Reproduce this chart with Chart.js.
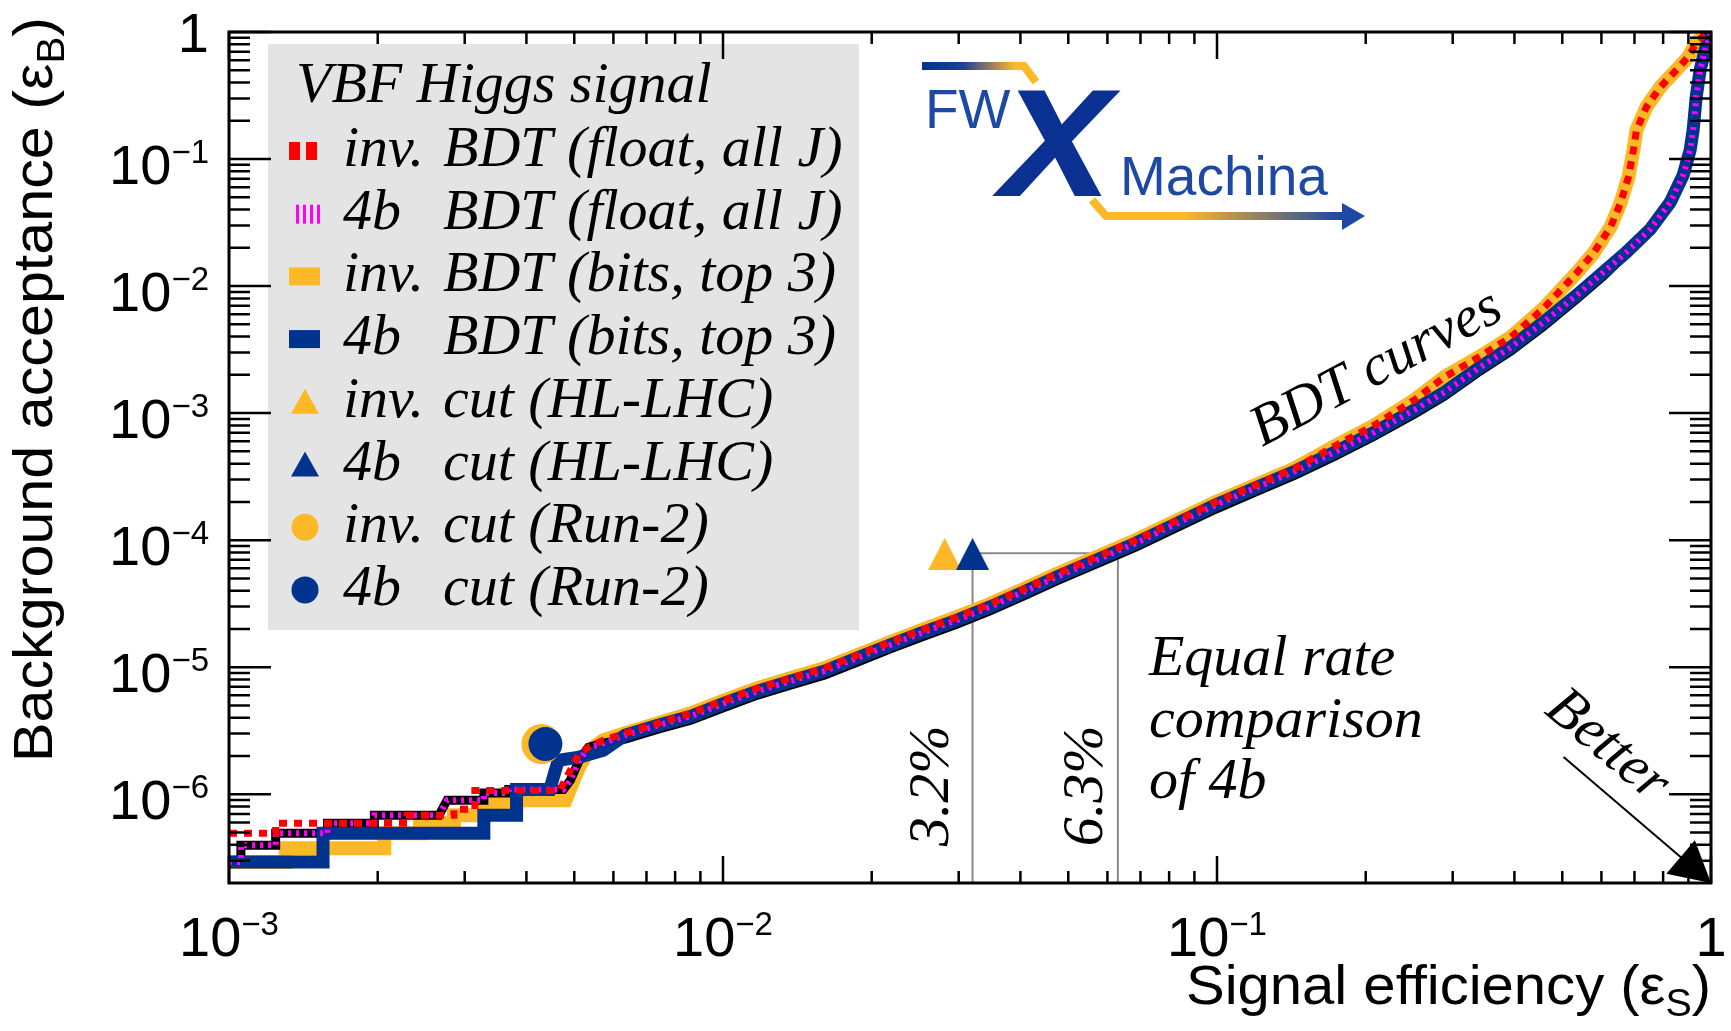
<!DOCTYPE html>
<html lang="en">
<head>
<meta charset="UTF-8">
<title>VBF Higgs signal - BDT curves</title>
<script src="https://cdn.jsdelivr.net/npm/chart.js"></script>
<style>
  html, body { margin: 0; padding: 0; background: #fff; }
  #wrap { width: 1731px; height: 1031px; }
</style>
</head>
<body>
<div id="wrap"><canvas id="roc" width="1731" height="1031"></canvas></div>
<script>
// axes
const xRange = [1e-3, 1];
const yRange = [2e-7, 1];
const xMajorTicks = [1e-3, 1e-2, 1e-1, 1];
const xTickLabels = [['10', '\u22123'], ['10', '\u22122'], ['10', '\u22121'], ['1', '']];
const yMajorTicks = [1, 1e-1, 1e-2, 1e-3, 1e-4, 1e-5, 1e-6];
const yTickLabels = [['1', ''], ['10', '\u22121'], ['10', '\u22122'], ['10', '\u22123'], ['10', '\u22124'], ['10', '\u22125'], ['10', '\u22126']];

// shared signal-efficiency points in the middle of the BDT curves
const bdtMidX = [6.34e-3, 7.39e-3, 8.61e-3, 1.008e-2, 1.175e-2, 1.369e-2, 1.603e-2, 1.868e-2, 2.177e-2, 2.549e-2, 2.971e-2, 3.463e-2,
                 4.055e-2, 4.725e-2, 5.689e-2, 6.848e-2, 8.245e-2, 9.93e-2, 0.1195, 0.1439, 0.1732, 0.2085, 0.2510];

// inv. BDT (float, all J)
const invFloatHeadX = [1.0e-3, 1.243e-3, 1.243e-3, 2.294e-3, 2.294e-3, 2.853e-3, 2.853e-3, 3.146e-3, 3.146e-3, 4.667e-3, 4.911e-3, 5.097e-3, 5.339e-3, 5.72e-3];
const invFloatHeadY = [4.93e-7, 4.93e-7, 5.91e-7, 5.91e-7, 6.84e-7, 6.84e-7, 7.62e-7, 7.62e-7, 1.07e-6, 1.07e-6, 1.55e-6, 2.03e-6, 2.34e-6, 2.66e-6];
// inv. BDT (bits, top 3)
const invBitsHeadX = [1.0e-3, 1.303e-3, 1.303e-3, 2.062e-3, 2.062e-3, 2.437e-3, 2.437e-3, 2.853e-3, 2.853e-3, 3.28e-3, 3.28e-3, 3.82e-3, 3.82e-3, 4.80e-3, 5.10e-3, 5.34e-3, 5.72e-3];
const invBitsHeadY = [2.92e-7, 2.92e-7, 3.76e-7, 3.76e-7, 4.93e-7, 4.93e-7, 5.91e-7, 5.91e-7, 6.84e-7, 6.84e-7, 8.49e-7, 8.49e-7, 8.97e-7, 8.97e-7, 1.6e-6, 2.2e-6, 2.66e-6];
// both inv. curves above 6e-3
const invMidY = [3.02e-6, 3.62e-6, 4.34e-6, 5.50e-6, 6.84e-6, 8.19e-6, 9.82e-6, 1.24e-5, 1.57e-5, 1.99e-5, 2.48e-5, 3.13e-5,
                 4.11e-5, 5.40e-5, 7.35e-5, 1.0e-4, 1.41e-4, 1.99e-4, 2.71e-4, 3.69e-4, 5.50e-4, 8.05e-4, 1.27e-3];
const invTailX = [0.2886, 0.3363, 0.3937, 0.4588, 0.5348, 0.5785, 0.6261, 0.6558, 0.6806, 0.6966, 0.7065, 0.7400, 0.7898, 0.8506, 0.8991, 0.9333, 0.978, 1.0];
const invTailY = [1.92e-3, 2.71e-3, 3.97e-3, 6.71e-3, 1.27e-2, 1.82e-2, 2.92e-2, 4.50e-2, 7.22e-2, 0.118, 0.169, 0.257, 0.369, 0.502, 0.636, 0.819, 0.98, 1.0];

// 4b BDT (float, all J)
const fbFloatHeadX = [1.0e-3, 1.057e-3, 1.057e-3, 1.243e-3, 1.243e-3, 1.583e-3, 1.583e-3, 1.969e-3, 1.969e-3, 2.662e-3, 2.763e-3, 3.28e-3, 3.28e-3,
                      3.684e-3, 3.684e-3, 4.753e-3, 4.911e-3, 5.097e-3, 5.339e-3, 5.72e-3];
const fbFloatHeadY = [2.92e-7, 2.92e-7, 3.97e-7, 3.97e-7, 4.93e-7, 4.93e-7, 5.91e-7, 5.91e-7, 6.84e-7, 6.84e-7, 8.97e-7, 8.97e-7, 1.02e-6,
                      1.02e-6, 1.09e-6, 1.09e-6, 1.29e-6, 1.79e-6, 2.34e-6, 2.52e-6];
// black edge line drawn with the 4b float curve, a little below the bits curve
const fbEdgeMidY = [2.71e-6, 3.25e-6, 3.83e-6, 4.84e-6, 6.03e-6, 7.22e-6, 8.65e-6, 1.09e-5, 1.39e-5, 1.75e-5, 2.18e-5, 2.76e-5,
                    3.62e-5, 4.75e-5, 6.47e-5, 8.81e-5, 1.24e-4, 1.75e-4, 2.39e-4, 3.25e-4, 4.58e-4, 6.59e-4, 9.82e-4];
const fbEdgeTailY = [1.36e-3, 2.07e-3, 3.08e-3, 4.84e-3, 7.90e-3, 1.20e-2, 1.80e-2, 2.75e-2, 4.50e-2, 7.3e-2, 0.115, 0.165, 0.30, 0.49, 0.71, 0.91, 1.0];
// 4b BDT (bits, top 3)
const fbBitsHeadX = [1.0e-3, 1.55e-3, 1.55e-3, 3.28e-3, 3.28e-3, 3.82e-3, 3.82e-3, 4.46e-3, 4.64e-3, 5.12e-3, 5.72e-3];
const fbBitsHeadY = [2.92e-7, 2.92e-7, 4.93e-7, 4.93e-7, 6.84e-7, 6.84e-7, 1.09e-6, 1.09e-6, 1.85e-6, 1.96e-6, 2.22e-6];
// both 4b curves above 6e-3
const fbMidY = [2.92e-6, 3.49e-6, 4.11e-6, 5.21e-6, 6.47e-6, 7.76e-6, 9.30e-6, 1.18e-5, 1.49e-5, 1.89e-5, 2.34e-5, 2.97e-5,
                3.90e-5, 5.11e-5, 6.96e-5, 9.46e-5, 1.34e-4, 1.89e-4, 2.57e-4, 3.49e-4, 4.93e-4, 7.08e-4, 1.06e-3];
const fbTailX = [0.2886, 0.3363, 0.3937, 0.4588, 0.5348, 0.6062, 0.6743, 0.7539, 0.8273, 0.8786, 0.9075, 0.9202, 0.9333, 0.9506, 0.9730, 0.996, 1.0];
const fbTailY = [1.46e-3, 2.22e-3, 3.31e-3, 5.21e-3, 8.49e-3, 1.29e-2, 1.85e-2, 2.81e-2, 4.58e-2, 7.48e-2, 0.118, 0.169, 0.308, 0.502, 0.722, 0.913, 1.0];

// cut-based working points: [inv., 4b]
const hlCutX = [0.0281, 0.032];
const hlCutY = [7.8e-5, 7.8e-5];
const run2CutX = [4.29e-3, 4.37e-3];
const run2CutY = [2.48e-6, 2.48e-6];
// equal rate guide lines (3.2% and 6.3%)
const equalRateX = [0.032, 0.032, 0.063, 0.063];
const equalRateY = [2e-7, 7.9e-5, 7.9e-5, 2e-7];

const legendLabels = [
  ['inv.', 'BDT (float, all J)'], ['4b', 'BDT (float, all J)'], ['inv.', 'BDT (bits, top 3)'], ['4b', 'BDT (bits, top 3)'],
  ['inv.', 'cut (HL-LHC)'], ['4b', 'cut (HL-LHC)'], ['inv.', 'cut (Run-2)'], ['4b', 'cut (Run-2)']
];

const RED = '#ff0000', MAGENTA = '#ff00ff', ORANGE = '#fdb827', BLUE = '#00338d', GREY = '#8a8a8a';
const SANS = "'Liberation Sans', Arial, Helvetica, sans-serif";
const SERIF = "'Liberation Serif', 'Times New Roman', serif";

const pts = (xs, ys) => xs.map((v, i) => ({ x: v, y: ys[i] }));

function triangleSprite(color) {
  const c = document.createElement('canvas');
  c.width = 33; c.height = 32;
  const g = c.getContext('2d');
  g.fillStyle = color;
  g.beginPath(); g.moveTo(16.5, 0); g.lineTo(33, 32); g.lineTo(0, 32); g.closePath(); g.fill();
  return c;
}

function minorTicks(lo, hi) {
  const out = [];
  for (let e = Math.floor(Math.log10(lo)); e < Math.round(Math.log10(hi)); e++) {
    for (let m = 2; m <= 9; m++) {
      const v = m * Math.pow(10, e);
      if (v > lo * 1.0001 && v < hi) out.push(v);
    }
  }
  return out;
}

function powerLabel(ctx, base, exp, px, baseline, align) {
  ctx.font = '56px ' + SANS;
  const wb = ctx.measureText(base).width;
  ctx.font = '33px ' + SANS;
  const we = exp ? ctx.measureText(exp).width : 0;
  const x0 = align === 'right' ? px - wb - we : px - (wb + we) / 2;
  ctx.font = '56px ' + SANS;
  ctx.fillText(base, x0, baseline);
  if (exp) {
    ctx.font = '33px ' + SANS;
    ctx.fillText(exp, x0 + wb, baseline - 21);
  }
}

// sans title with a subscript, right aligned at (ox, oy) and fitted to a length
function axisTitle(ctx, parts, ox, oy, rot, length) {
  let w = 0;
  parts.forEach(p => { ctx.font = p.size + 'px ' + SANS; p.w = ctx.measureText(p.t).width; w += p.w; });
  ctx.save();
  ctx.translate(ox, oy);
  ctx.rotate(rot);
  ctx.scale(length / w, 1);
  let cx = -w;
  parts.forEach(p => { ctx.font = p.size + 'px ' + SANS; ctx.fillText(p.t, cx, p.dy); cx += p.w; });
  ctx.restore();
}

function note(ctx, text, px, py, deg) {
  ctx.save();
  ctx.translate(px, py);
  ctx.rotate(deg * Math.PI / 180);
  ctx.font = 'italic 58px ' + SERIF;
  ctx.fillText(text, 0, 0);
  ctx.restore();
}

function drawLegend(ctx) {
  ctx.fillStyle = '#e4e4e4';
  ctx.fillRect(268, 44, 591, 586);
  ctx.fillStyle = '#000';
  ctx.font = 'italic 58px ' + SERIF;
  ctx.fillText('VBF Higgs signal', 296, 102);
  legendLabels.forEach((lab, i) => {
    const cy = 151 + i * 62.7;
    switch (i) {
      case 0:
        ctx.fillStyle = RED;
        ctx.fillRect(289, cy - 9, 11, 18); ctx.fillRect(306, cy - 9, 11, 18);
        break;
      case 1:
        ctx.fillStyle = MAGENTA;
        for (let k = 0; k < 4; k++) ctx.fillRect(296 + k * 7, cy - 9, 3, 19);
        break;
      case 2: ctx.fillStyle = ORANGE; ctx.fillRect(289, cy - 9, 31, 18); break;
      case 3: ctx.fillStyle = BLUE; ctx.fillRect(289, cy - 9, 31, 18); break;
      case 4: case 5:
        ctx.fillStyle = i === 4 ? ORANGE : BLUE;
        ctx.beginPath(); ctx.moveTo(305, cy - 13); ctx.lineTo(319, cy + 12); ctx.lineTo(291, cy + 12); ctx.closePath(); ctx.fill();
        break;
      default:
        ctx.fillStyle = i === 6 ? ORANGE : BLUE;
        ctx.beginPath(); ctx.arc(305, cy, 13.5, 0, 2 * Math.PI); ctx.fill();
    }
    ctx.fillStyle = '#000';
    ctx.font = 'italic 58px ' + SERIF;
    ctx.fillText(lab[0], 343, cy + 15);
    ctx.fillText(lab[1], 443, cy + 15);
  });
}

function drawLogo(ctx) {
  ctx.save();
  ctx.lineWidth = 8;
  ctx.lineJoin = 'miter';
  let g = ctx.createLinearGradient(922, 0, 1015, 0);
  g.addColorStop(0, BLUE); g.addColorStop(0.45, '#1f3f99'); g.addColorStop(1, ORANGE);
  ctx.strokeStyle = g;
  ctx.beginPath(); ctx.moveTo(922, 66); ctx.lineTo(1024, 66); ctx.lineTo(1036, 82); ctx.stroke();
  ctx.fillStyle = '#1d48a4';
  ctx.font = '55px ' + SANS;
  ctx.fillText('FW', 925, 128);
  ctx.fillText('Machina', 1120, 195);
  // big X: bold oblique, slightly widened
  ctx.save();
  ctx.translate(1002, 195);
  ctx.scale(1.08, 1);
  ctx.fillStyle = '#0b3192';
  ctx.strokeStyle = '#0b3192';
  ctx.lineWidth = 2;
  ctx.font = 'italic bold 150px ' + SANS;
  ctx.fillText('X', 0, 0);
  ctx.strokeText('X', 0, 0);
  ctx.restore();
  g = ctx.createLinearGradient(1100, 0, 1340, 0);
  g.addColorStop(0, ORANGE); g.addColorStop(0.35, ORANGE); g.addColorStop(1, '#1d48a4');
  ctx.strokeStyle = g;
  ctx.lineWidth = 8;
  ctx.beginPath(); ctx.moveTo(1092, 200); ctx.lineTo(1106, 216); ctx.lineTo(1345, 216); ctx.stroke();
  ctx.fillStyle = '#1d48a4';
  ctx.beginPath(); ctx.moveTo(1342, 203); ctx.lineTo(1365, 216); ctx.lineTo(1342, 230); ctx.closePath(); ctx.fill();
  ctx.restore();
}

const rootStyle = {
  id: 'rootStyle',
  afterDatasetsDraw(chart) {
    const { ctx, chartArea: a } = chart;
    const xs = chart.scales.x, ys = chart.scales.y;
    ctx.save();
    ctx.textAlign = 'left';
    ctx.textBaseline = 'alphabetic';

    drawLegend(ctx);
    drawLogo(ctx);

    // annotations
    ctx.fillStyle = '#000';
    note(ctx, 'BDT curves', xs.getPixelForValue(0.1235), ys.getPixelForValue(5.4e-4), -28);
    const ex = xs.getPixelForValue(0.0728), ey = ys.getPixelForValue(8.65e-6);
    ['Equal rate', 'comparison', 'of 4b'].forEach((t, i) => note(ctx, t, ex, ey + i * 61.5, 0));
    note(ctx, '3.2%', xs.getPixelForValue(0.0286), ys.getPixelForValue(3.9e-7), -90);
    note(ctx, '6.3%', xs.getPixelForValue(0.0585), ys.getPixelForValue(3.9e-7), -90);
    note(ctx, 'Better', xs.getPixelForValue(0.457), ys.getPixelForValue(4.42e-6), 40);

    // "better" arrow
    const ax0 = xs.getPixelForValue(0.503), ay0 = ys.getPixelForValue(1.96e-6);
    const ax1 = xs.getPixelForValue(1), ay1 = ys.getPixelForValue(2e-7);
    const ang = Math.atan2(ay1 - ay0, ax1 - ax0);
    ctx.strokeStyle = '#000'; ctx.lineWidth = 2;
    ctx.beginPath(); ctx.moveTo(ax0, ay0); ctx.lineTo(ax1 - 30 * Math.cos(ang), ay1 - 30 * Math.sin(ang)); ctx.stroke();
    ctx.beginPath();
    ctx.moveTo(ax1, ay1);
    ctx.lineTo(ax1 - 40 * Math.cos(ang) + 22 * Math.sin(ang), ay1 - 40 * Math.sin(ang) - 22 * Math.cos(ang));
    ctx.lineTo(ax1 - 40 * Math.cos(ang) - 22 * Math.sin(ang), ay1 - 40 * Math.sin(ang) + 22 * Math.cos(ang));
    ctx.closePath(); ctx.fill();

    // frame and inward ticks on all four sides
    ctx.strokeStyle = '#000';
    ctx.lineWidth = 2.5;
    ctx.beginPath();
    const tickX = (v, len) => {
      const p = xs.getPixelForValue(v);
      ctx.moveTo(p, a.bottom); ctx.lineTo(p, a.bottom - len);
      ctx.moveTo(p, a.top); ctx.lineTo(p, a.top + len);
    };
    const tickY = (v, len) => {
      const p = ys.getPixelForValue(v);
      ctx.moveTo(a.left, p); ctx.lineTo(a.left + len, p);
      ctx.moveTo(a.right, p); ctx.lineTo(a.right - len, p);
    };
    xMajorTicks.forEach(v => tickX(v, 27));
    minorTicks(xRange[0], xRange[1]).forEach(v => tickX(v, 12));
    yMajorTicks.forEach(v => tickY(v, 42));
    minorTicks(yRange[0], yRange[1]).forEach(v => tickY(v, 21));
    ctx.stroke();
    ctx.lineWidth = 3;
    ctx.strokeRect(a.left, a.top, a.right - a.left, a.bottom - a.top);

    // tick labels
    ctx.fillStyle = '#000';
    xMajorTicks.forEach((v, i) => powerLabel(ctx, xTickLabels[i][0], xTickLabels[i][1], xs.getPixelForValue(v), a.bottom + 73, 'center'));
    yMajorTicks.forEach((v, i) => {
      const p = ys.getPixelForValue(v);
      powerLabel(ctx, yTickLabels[i][0], yTickLabels[i][1], a.left - 20, p + (i === 0 ? 20 : 25), 'right');
    });

    // axis titles
    axisTitle(ctx, [{ t: 'Signal efficiency (\u03b5', size: 56, dy: 0 }, { t: 'S', size: 38, dy: 12 }, { t: ')', size: 56, dy: 0 }],
      a.right, 1004, 0, 525);
    axisTitle(ctx, [{ t: 'Background acceptance (\u03b5', size: 56, dy: 0 }, { t: 'B', size: 38, dy: 12 }, { t: ')', size: 56, dy: 0 }],
      52, 17, -Math.PI / 2, 745);
    ctx.restore();
  }
};

const line = (label, xs, ys, color, width, dash, order) => ({
  label, data: pts(xs, ys), showLine: true, borderColor: color, borderWidth: width,
  borderDash: dash, pointRadius: 0, pointHoverRadius: 0, order
});
const marker = (label, x, y, style, radius, color, order) => ({
  label, data: [{ x, y }], showLine: false, pointStyle: style, pointRadius: radius,
  pointBackgroundColor: color, pointBorderWidth: 0, order
});

const invFloatX = invFloatHeadX.concat(bdtMidX, invTailX), invFloatY = invFloatHeadY.concat(invMidY, invTailY);
const invBitsX = invBitsHeadX.concat(bdtMidX, invTailX), invBitsY = invBitsHeadY.concat(invMidY, invTailY);
const fbFloatX = fbFloatHeadX.concat(bdtMidX, fbTailX), fbFloatY = fbFloatHeadY.concat(fbMidY, fbTailY);
const fbEdgeY = fbFloatHeadY.concat(fbEdgeMidY, fbEdgeTailY);
const fbBitsX = fbBitsHeadX.concat(bdtMidX, fbTailX), fbBitsY = fbBitsHeadY.concat(fbMidY, fbTailY);

new Chart(document.getElementById('roc'), {
  type: 'scatter',
  data: {
    datasets: [
      marker('4b cut (HL-LHC)', hlCutX[1], hlCutY[1], triangleSprite(BLUE), 16, BLUE, 0),
      marker('inv. cut (HL-LHC)', hlCutX[0], hlCutY[0], triangleSprite(ORANGE), 16, ORANGE, 1),
      marker('4b cut (Run-2)', run2CutX[1], run2CutY[1], 'circle', 17, BLUE, 0),
      marker('inv. cut (Run-2)', run2CutX[0], run2CutY[0], 'circle', 20, ORANGE, 2),
      line('inv. BDT (float, all J)', invFloatX, invFloatY, RED, 7, [8, 7], 3),
      line('4b BDT (float, all J)', fbFloatX, fbFloatY, MAGENTA, 6, [3, 5], 4),
      line('4b BDT (bits, top 3)', fbBitsX, fbBitsY, BLUE, 13, [], 6),
      line('4b BDT (float, all J) edge', fbFloatX, fbEdgeY, '#000', 9, [], 7),
      line('inv. BDT (bits, top 3)', invBitsX, invBitsY, ORANGE, 14, [], 8),
      line('equal rate', equalRateX, equalRateY, GREY, 2, [], 9)
    ]
  },
  options: {
    responsive: false,
    animation: false,
    devicePixelRatio: 1,
    layout: { padding: { left: 229, right: 13, top: 32, bottom: 148 } },
    scales: {
      x: { type: 'logarithmic', min: xRange[0], max: xRange[1], display: false },
      y: { type: 'logarithmic', min: yRange[0], max: yRange[1], display: false }
    },
    elements: { line: { tension: 0 } },
    plugins: { legend: { display: false }, tooltip: { enabled: false } }
  },
  plugins: [rootStyle]
});
</script>
</body>
</html>
